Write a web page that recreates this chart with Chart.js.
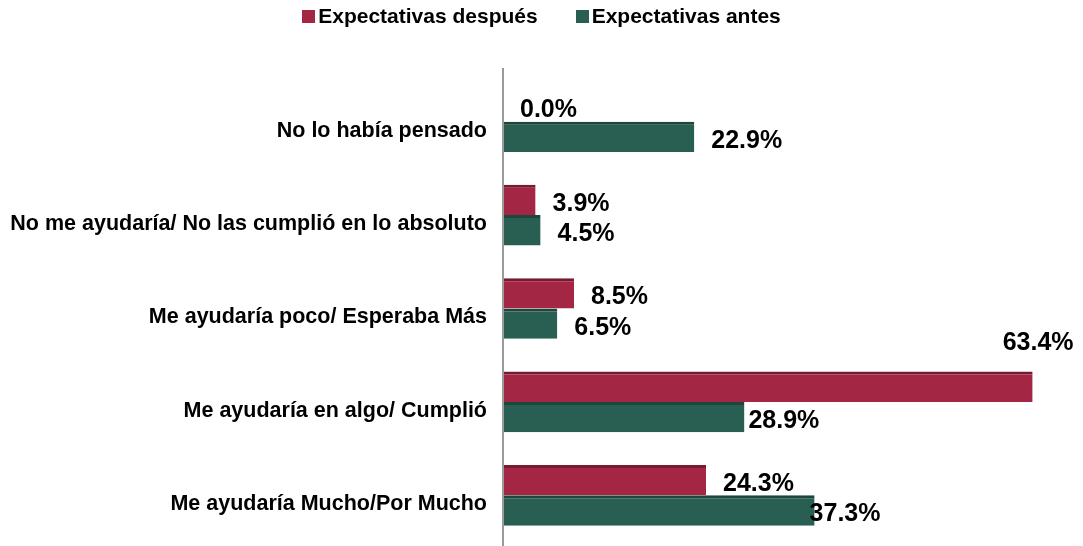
<!DOCTYPE html>
<html>
<head>
<meta charset="utf-8">
<script src="https://cdn.jsdelivr.net/npm/chart.js@4"></script>
<style>
    html, body { margin: 0; padding: 0; background: #fff; }
    #wrap { position: relative; width: 1083px; height: 546px; overflow: hidden; }
    #legend {
        position: absolute; top: 4px; left: 0; width: 1083px;
        display: flex; justify-content: center; gap: 38px;
        font: bold 21px 'Liberation Sans', Arial, sans-serif; color: #000;
    }
    #legend span.item { display: flex; align-items: center; }
    #legend i { display: inline-block; width: 13px; height: 13px; margin-right: 3px; }
    canvas { display: block; }
</style>
</head>
<body>
<div id="wrap">
    <div id="legend"></div>
    <canvas id="chart" width="1083" height="546"></canvas>
</div>
<script>
const categories = [
    'No lo había pensado',
    'No me ayudaría/ No las cumplió en lo absoluto',
    'Me ayudaría poco/ Esperaba Más',
    'Me ayudaría en algo/ Cumplió',
    'Me ayudaría Mucho/Por Mucho'
];
const seriesNames = ['Expectativas después', 'Expectativas antes'];
const despues = [0.0, 3.9, 8.5, 63.4, 24.3];
const antes = [22.9, 4.5, 6.5, 28.9, 37.3];

const colors = ['#a32744', '#285f52'];
const edgeColors = ['#7a1a31', '#1d473d'];

// legend as plain html
const legend = document.getElementById('legend');
seriesNames.forEach((name, i) => {
    const item = document.createElement('span');
    item.className = 'item';
    item.innerHTML = `<i style="background:${colors[i]}"></i>${name}`;
    legend.appendChild(item);
});

// value labels, placed like the Excel original
const valueLabels = {
    id: 'valueLabels',
    afterDatasetsDraw(chart, args, opts) {
        const ctx = chart.ctx;
        ctx.save();
        ctx.font = 'bold 25px "Liberation Sans", Arial, sans-serif';
        ctx.fillStyle = '#000';
        ctx.textBaseline = 'middle';
        ctx.textAlign = 'left';
        chart.data.datasets.forEach((ds, di) => {
            chart.getDatasetMeta(di).data.forEach((bar, i) => {
                const nudge = opts.nudges[di + '-' + i] || [0, 0];
                const text = ds.data[i].toFixed(1) + '%';
                ctx.fillText(text, bar.x + 17 + nudge[0], bar.y + 4 + nudge[1]);
            });
        });
        ctx.restore();
    }
};

// axis line runs a little past the plot area
const axisLine = {
    id: 'axisLine',
    afterDraw(chart) {
        const ctx = chart.ctx;
        const x = chart.chartArea.left;
        ctx.save();
        ctx.strokeStyle = '#9a9a9a';
        ctx.lineWidth = 2;
        ctx.beginPath();
        ctx.moveTo(x, 68);
        ctx.lineTo(x, 546);
        ctx.stroke();
        ctx.restore();
    }
};

new Chart(document.getElementById('chart'), {
    type: 'bar',
    data: {
        labels: categories,
        datasets: [despues, antes].map((values, i) => ({
            label: seriesNames[i],
            data: values,
            backgroundColor: colors[i],
            borderColor: edgeColors[i],
            borderWidth: { top: 3, right: 0, bottom: 0, left: 0 },
            borderSkipped: false,
            categoryPercentage: 0.65,
            barPercentage: 1
        }))
    },
    plugins: [valueLabels, axisLine],
    options: {
        indexAxis: 'y',
        responsive: false,
        animation: false,
        layout: { padding: { top: 75, bottom: 4, right: 37, left: 0 } },
        plugins: {
            legend: { display: false },
            tooltip: { enabled: false },
            valueLabels: {
                nudges: {
                    '1-3': [-13, 0],
                    '1-4': [-22, 0],
                    '0-3': [-47, -48]
                }
            }
        },
        scales: {
            x: { display: false, min: 0, max: 65 },
            y: {
                grid: { display: false, drawTicks: false },
                border: { display: false },
                afterFit(scale) {
                    scale.width = 503;
                    scale.paddingTop = 0;
                    scale.paddingBottom = 0;
                },
                ticks: {
                    color: '#000',
                    padding: 16,
                    labelOffset: 9,
                    font: { family: "'Liberation Sans', Arial, sans-serif", size: 21.5, weight: 'bold' }
                }
            }
        }
    }
});
</script>
</body>
</html>
